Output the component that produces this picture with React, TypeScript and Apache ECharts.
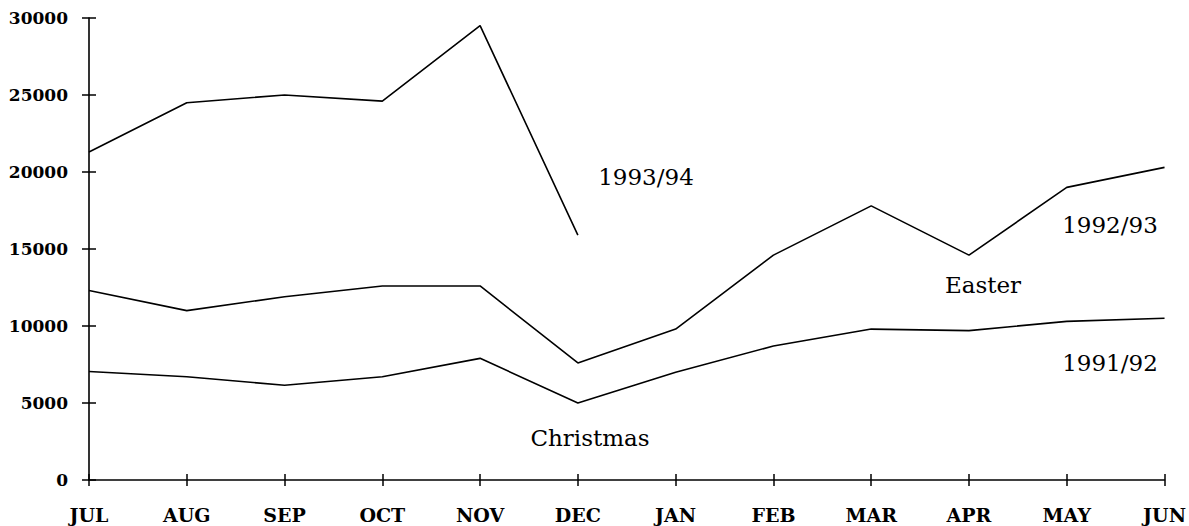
import React, { useEffect, useRef } from "react";
import * as echarts from "echarts";

const months = ["JUL", "AUG", "SEP", "OCT", "NOV", "DEC", "JAN", "FEB", "MAR", "APR", "MAY", "JUN"];
const s1993_94: (number | null)[] = [21300, 24500, 25000, 24600, 29500, 15900, null, null, null, null, null, null];
const s1992_93 = [12300, 11000, 11900, 12600, 12600, 7600, 9800, 14600, 17800, 14600, 19000, 20300];
const s1991_92 = [7050, 6700, 6150, 6700, 7900, 5000, 7000, 8700, 9800, 9700, 10300, 10500];

const annotations = [
  { text: "1993/94", x: 646, y: 177 },
  { text: "1992/93", x: 1110, y: 225 },
  { text: "Easter", x: 983, y: 285 },
  { text: "1991/92", x: 1110, y: 363 },
  { text: "Christmas", x: 590, y: 438 },
];

const FONT = "'DejaVu Serif', 'Liberation Serif', serif";

export default function App() {
  const ref = useRef<HTMLDivElement>(null);
  useEffect(() => {
    if (!ref.current) return;
    const chart = echarts.init(ref.current, undefined, { renderer: "svg" });
    const lineStyle = { color: "#000", width: 1.6 };
    const mkSeries = (name: string, data: (number | null)[]) => ({
      name,
      type: "line",
      data,
      xAxisIndex: 0,
      yAxisIndex: 0,
      symbol: "none",
      lineStyle,
      connectNulls: false,
    });
    chart.setOption({
      animation: false,
      backgroundColor: "#fff",
      grid: { left: 89, right: 13, top: 18, bottom: 46, containLabel: false },
      xAxis: [
        {
          type: "category",
          data: months,
          boundaryGap: false,
          axisLine: { show: true, lineStyle: { color: "#000", width: 1.6 } },
          axisTick: { show: true, inside: false, length: 6, lineStyle: { color: "#000", width: 1.5 } },
          axisLabel: {
            show: true,
            margin: 25,
            color: "#000",
            fontFamily: FONT,
            fontWeight: "bold",
            fontSize: 19,
            interval: 0,
          },
          splitLine: { show: false },
        },
        {
          type: "category",
          data: months,
          boundaryGap: false,
          position: "bottom",
          axisLine: { show: false },
          axisTick: { show: true, inside: true, length: 6, lineStyle: { color: "#000", width: 1.5 } },
          axisLabel: { show: false },
          splitLine: { show: false },
        },
      ],
      yAxis: [
        {
          type: "value",
          min: 0,
          max: 30000,
          interval: 5000,
          axisLine: { show: true, lineStyle: { color: "#000", width: 1.6 } },
          axisTick: { show: true, inside: false, length: 7, lineStyle: { color: "#000", width: 1.5 } },
          axisLabel: {
            margin: 21,
            color: "#000",
            fontFamily: FONT,
            fontWeight: "bold",
            fontSize: 17,
            formatter: (v: number) => String(v),
          },
          splitLine: { show: false },
        },
        {
          type: "value",
          min: 0,
          max: 30000,
          interval: 5000,
          position: "left",
          axisLine: { show: false },
          axisTick: { show: true, inside: true, length: 7, lineStyle: { color: "#000", width: 1.5 } },
          axisLabel: { show: false },
          splitLine: { show: false },
        },
      ],
      series: [
        mkSeries("1993/94", s1993_94),
        mkSeries("1992/93", s1992_93),
        mkSeries("1991/92", s1991_92),
      ],
      graphic: annotations.map((a) => ({
        type: "text",
        x: a.x,
        y: a.y,
        style: {
          text: a.text,
          fill: "#000",
          font: `23px ${FONT}`,
          textAlign: "center",
          textVerticalAlign: "middle",
        },
      })),
    });
    return () => chart.dispose();
  }, []);
  return (
    <div
      ref={ref}
      style={{ position: "fixed", left: 0, top: 0, width: 1189, height: 526, background: "#fff" }}
    />
  );
}
